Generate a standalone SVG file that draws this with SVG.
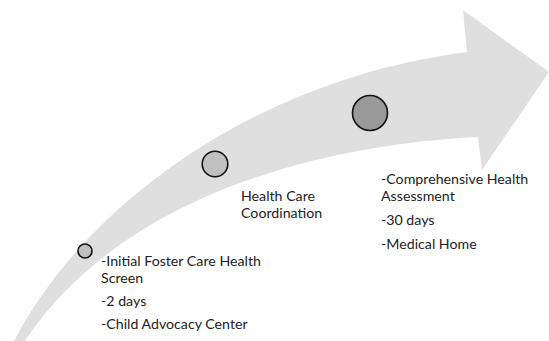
<svg xmlns="http://www.w3.org/2000/svg" width="549" height="341" viewBox="0 0 549 341">
  <style>
    .arrow { fill: #dfdfdf; stroke: none; }
    .dot { stroke: #111; stroke-width: 1.6; }
    .light { fill: #c0c0c0; }
    .dark { fill: #999999; }
    .label { font-family: Lato, "Open Sans", "Liberation Sans", sans-serif; font-size: 14.2px; fill: #222; }
  </style>
  <rect width="549" height="341" fill="#ffffff"/>
  <g id="connectors">
    <path class="arrow" d="M 12,345 C 80,210 250,80 467,52 L 463,10 L 549,72 L 482,170 L 478,137 C 320,145 120,195 22,345 Z"/>
  </g>
  <g id="node-initial-screen">
    <circle class="dot light" cx="85" cy="251" r="7"/>
    <text class="label" x="101" y="266">-Initial Foster Care Health</text>
    <text class="label" x="101" y="283">Screen</text>
    <text class="label" x="101" y="306">-2 days</text>
    <text class="label" x="101" y="329">-Child Advocacy Center</text>
  </g>
  <g id="node-coordination">
    <circle class="dot light" cx="215" cy="164" r="12.8"/>
    <text class="label" x="241" y="201">Health Care</text>
    <text class="label" x="241" y="218">Coordination</text>
  </g>
  <g id="node-comprehensive">
    <circle class="dot dark" cx="370" cy="113" r="17.5"/>
    <text class="label" x="381" y="184">-Comprehensive Health</text>
    <text class="label" x="381" y="201">Assessment</text>
    <text class="label" x="381" y="225">-30 days</text>
    <text class="label" x="381" y="249">-Medical Home</text>
  </g>
</svg>
